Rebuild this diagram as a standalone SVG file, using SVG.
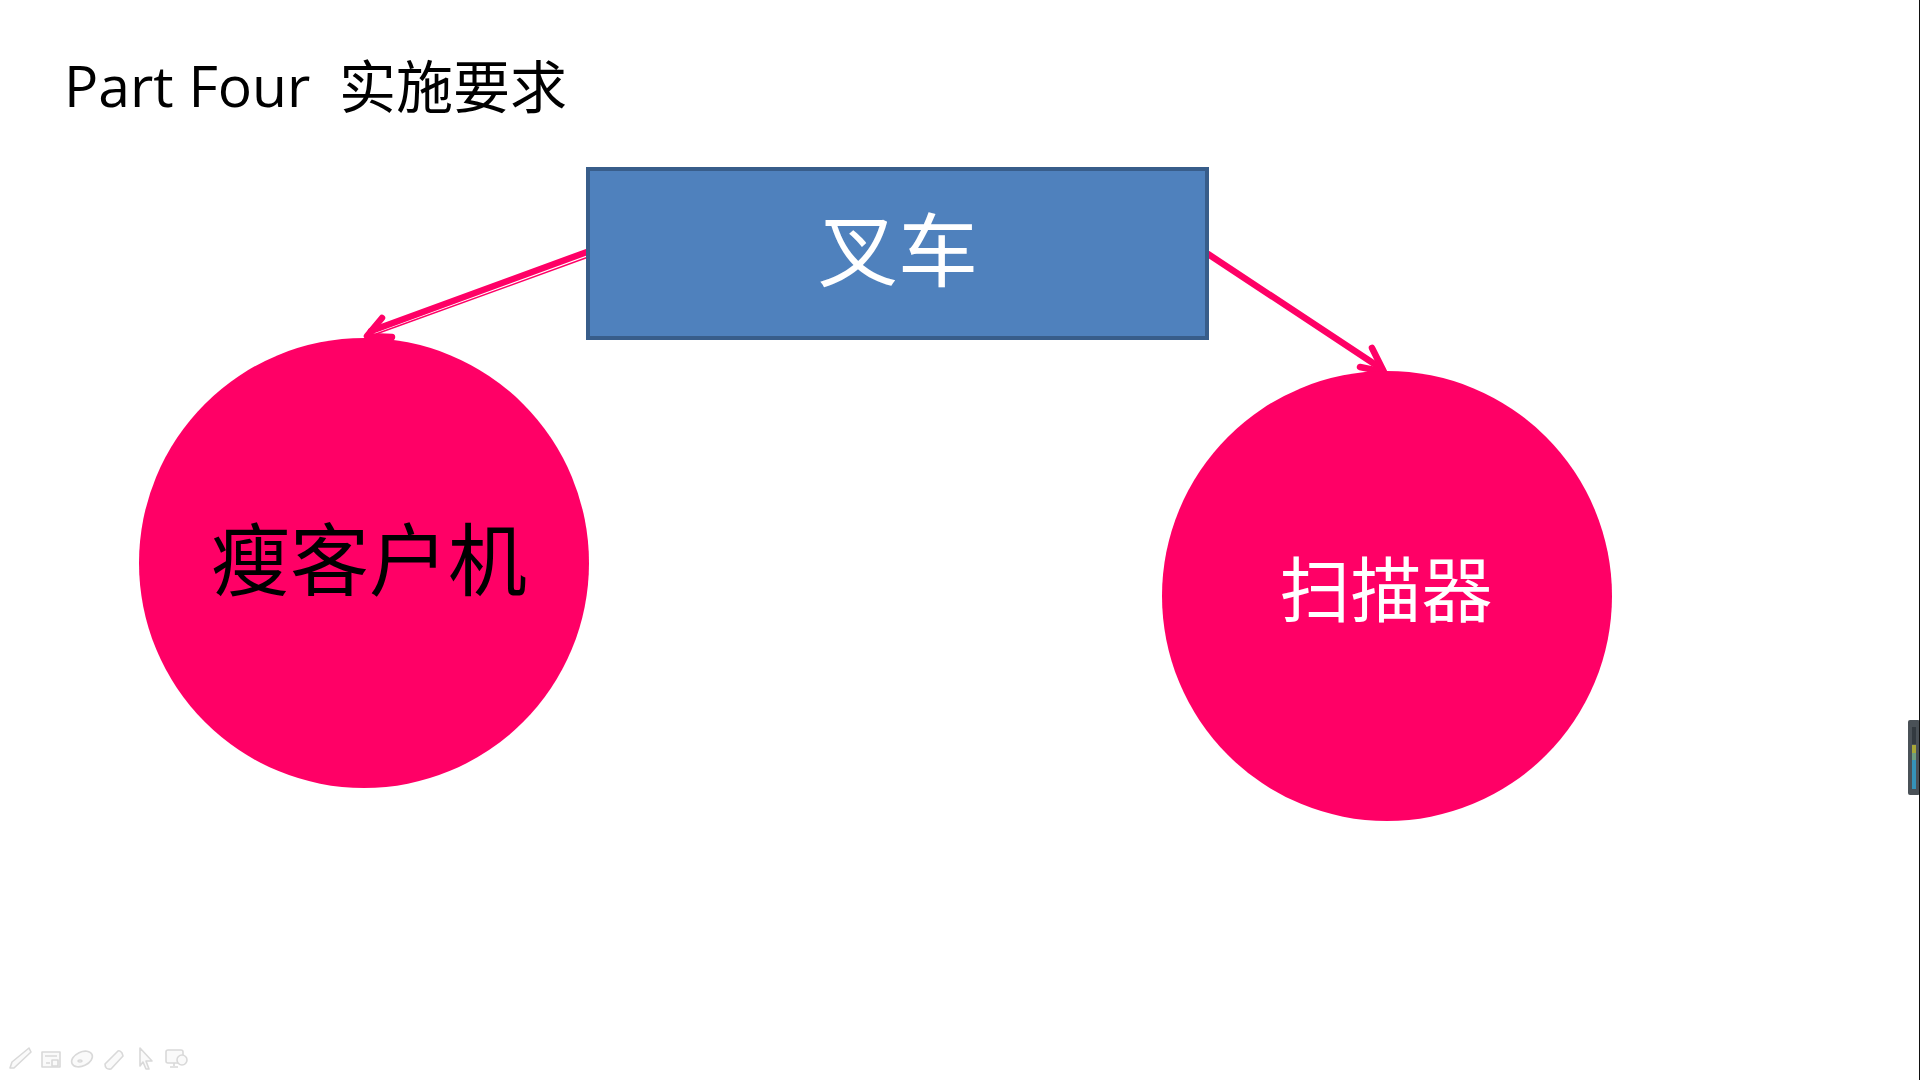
<svg xmlns="http://www.w3.org/2000/svg" width="1920" height="1080" viewBox="0 0 1920 1080">
<style>
.sym{font-family:"Liberation Serif","Noto Sans CJK SC",serif}
.conn{fill:none;stroke:#ff0066;stroke-width:6.5;stroke-linecap:round;stroke-linejoin:round}
.ic{fill:#fafafa;stroke:#d9d9d9;stroke-width:1.6;stroke-linejoin:round}
</style>
<rect width="1920" height="1080" fill="#fff"/>
<text x="64" y="107" font-family="'Open Sans','Noto Sans CJK SC',sans-serif" font-size="57" fill="#000">Part Four</text>
<text x="339" y="108" font-family="'Noto Sans CJK SC',sans-serif" font-size="57" fill="#000">实施要求</text>
<g id="connectors">
<path class="conn" d="M587 252 L371 331"/>
<path d="M587 257.5 L376 334" fill="none" stroke="#ff0066" stroke-width="1.4"/>
<path class="conn" d="M382 318 L367 336 L392 337"/>
<path class="conn" d="M1208 254 L1382 369"/>
<path class="conn" d="M1372 348 L1384 372 L1360 367"/>
</g>
<g id="forklift">
<rect x="588" y="169" width="619" height="169" fill="#4f81bd" stroke="#385d8a" stroke-width="4"/>
<text class="sym" x="898" y="280" font-size="80" fill="#fff" text-anchor="middle">叉车</text>
</g>
<g id="thin-client">
<circle cx="364" cy="563" r="225" fill="#ff0066"/>
<text class="sym" x="369" y="590" font-size="79" fill="#000" text-anchor="middle">瘦客户机</text>
</g>
<g id="scanner">
<circle cx="1387" cy="596" r="225" fill="#ff0066"/>
<text class="sym" x="1386" y="616" font-size="71" fill="#fff" text-anchor="middle">扫描器</text>
</g>
<g id="toolbar">
<path class="ic" d="M10 1068 L12 1062 L29 1048 L31 1052 L14 1068 Z"/>
<rect class="ic" x="42" y="1052" width="18" height="15"/>
<path class="ic" d="M45 1056 H57 M46 1063 H50 M52 1060 H58 V1066 H52 Z"/>
<ellipse class="ic" cx="82" cy="1059" rx="11" ry="7" transform="rotate(-25 82 1059)"/>
<ellipse class="ic" cx="80" cy="1061" rx="2" ry="1"/>
<path class="ic" d="M105 1064 L118 1051 Q120 1050 122 1053 L123 1056 L111 1069 Q105 1070 105 1064 Z"/>
<path class="ic" d="M140 1048 L152 1061 L146 1061 L149 1069 L146 1069 L143 1062 L140 1066 Z"/>
<rect class="ic" x="166" y="1050" width="17" height="13" rx="2"/>
<path class="ic" d="M174 1063 V1066 M170 1067 H178"/>
<circle class="ic" cx="182" cy="1060" r="5"/>
</g>
<g id="side-widget">
<rect x="1908" y="720" width="12" height="75" rx="2" fill="#4a5157"/>
<rect x="1912" y="727" width="4" height="17" fill="#333a40"/>
<rect x="1912" y="745" width="4" height="8" fill="#a8a838"/>
<rect x="1912" y="753" width="4" height="7" fill="#6fa080"/>
<rect x="1912" y="760" width="4" height="29" fill="#3592b8"/>
</g>
<rect x="1919" y="0" width="1" height="1080" fill="#111"/>
</svg>
